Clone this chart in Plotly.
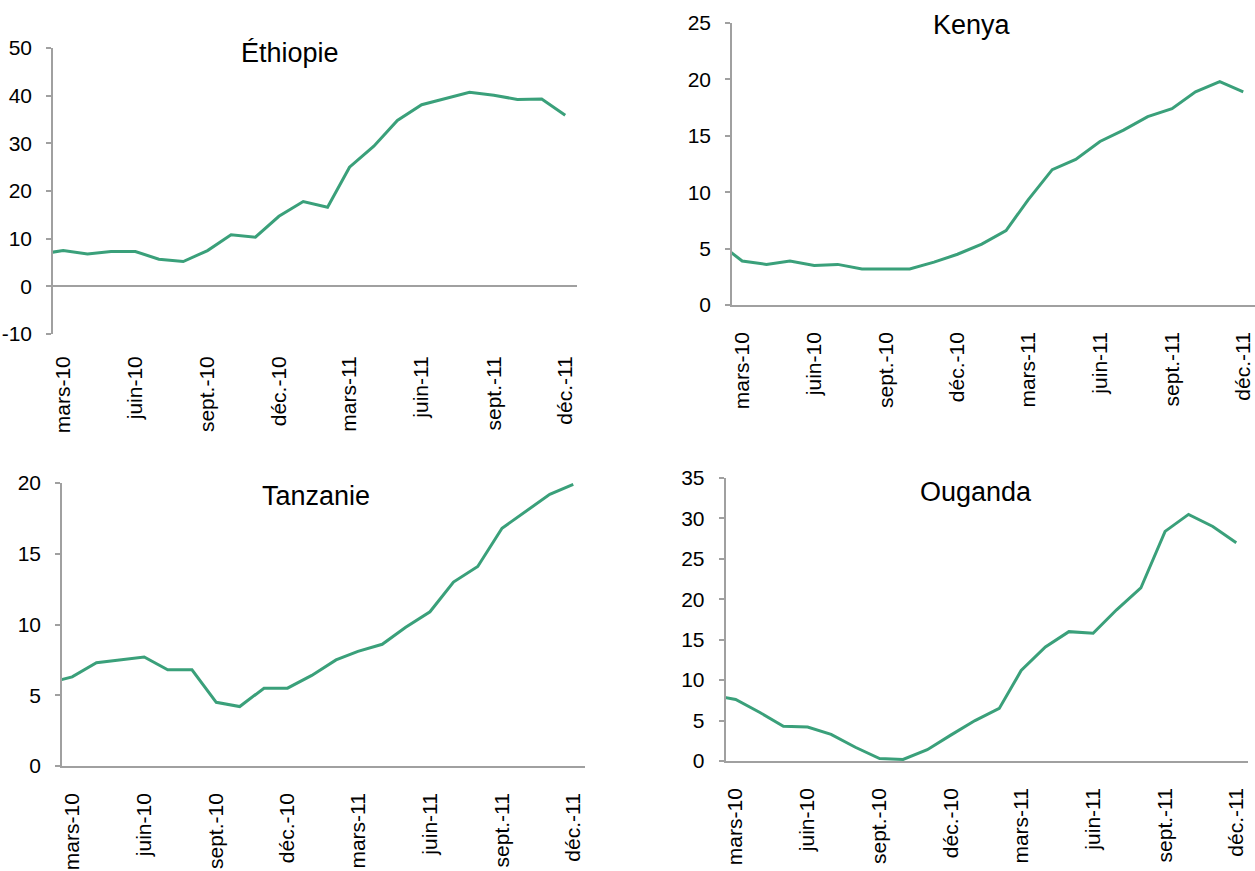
import plotly.graph_objects as go

# Monthly observations, Feb 2010 - Dec 2011 (year-on-year change, %)
months = [
    "2010-02-01", "2010-03-01", "2010-04-01", "2010-05-01", "2010-06-01",
    "2010-07-01", "2010-08-01", "2010-09-01", "2010-10-01", "2010-11-01",
    "2010-12-01", "2011-01-01", "2011-02-01", "2011-03-01", "2011-04-01",
    "2011-05-01", "2011-06-01", "2011-07-01", "2011-08-01", "2011-09-01",
    "2011-10-01", "2011-11-01", "2011-12-01",
]

ethiopie = [6.8, 7.5, 6.8, 7.3, 7.3, 5.7, 5.2, 7.5, 10.8, 10.3, 14.7, 17.8,
            16.6, 25.0, 29.4, 34.8, 38.1, 39.3, 40.7, 40.1, 39.2, 39.3, 35.9]
kenya = [5.4, 3.9, 3.6, 3.9, 3.5, 3.6, 3.2, 3.2, 3.2, 3.8, 4.5, 5.4,
         6.6, 9.3, 12.0, 12.9, 14.5, 15.5, 16.7, 17.4, 18.9, 19.8, 18.9]
tanzanie = [5.9, 6.3, 7.3, 7.5, 7.7, 6.8, 6.8, 4.5, 4.2, 5.5, 5.5, 6.4,
            7.5, 8.1, 8.6, 9.8, 10.9, 13.0, 14.1, 16.8, 18.0, 19.2, 19.9]
ouganda = [8.1, 7.6, 6.0, 4.3, 4.2, 3.3, 1.7, 0.3, 0.2, 1.4, 3.2, 5.0,
           6.5, 11.2, 14.1, 16.0, 15.8, 18.7, 21.4, 28.4, 30.5, 29.0, 27.0]

tick_dates = ["2010-03-01", "2010-06-01", "2010-09-01", "2010-12-01",
              "2011-03-01", "2011-06-01", "2011-09-01", "2011-12-01"]
tick_labels = ["mars-10", "juin-10", "sept.-10", "déc.-10",
               "mars-11", "juin-11", "sept.-11", "déc.-11"]

titles = ["Éthiopie", "Kenya", "Tanzanie", "Ouganda"]
series = [ethiopie, kenya, tanzanie, ouganda]
y_ticks = [
    [-10, 0, 10, 20, 30, 40, 50],
    [0, 5, 10, 15, 20, 25],
    [0, 5, 10, 15, 20],
    [0, 5, 10, 15, 20, 25, 30, 35],
]

W, H = 1255, 871
LINE = "#3aa07a"
AXIS = "#a0a0a0"
FONT = "Liberation Sans, Arial, sans-serif"

# plot-area boxes in pixels: left, right, top, bottom
boxes = [(53, 577, 48, 334), (732, 1255, 23, 305),
         (62, 585, 483, 766), (725.5, 1248, 478, 761)]
# title centres in pixels
title_pos = [(290, 53), (972, 25), (316, 496), (976, 492)]

fig = go.Figure()
layout = dict(
    width=W, height=H, margin=dict(l=0, r=0, t=0, b=0, autoexpand=False),
    paper_bgcolor="white", plot_bgcolor="white", showlegend=False,
    font=dict(family=FONT, color="#000000"),
)
annotations = []
for i, (name, vals) in enumerate(zip(titles, series)):
    n = "" if i == 0 else str(i + 1)
    l, r, t, b = boxes[i]
    yt = y_ticks[i]
    fig.add_trace(go.Scatter(
        x=months, y=vals, mode="lines", xaxis="x" + n, yaxis="y" + n,
        line=dict(color=LINE, width=3), hoverinfo="skip",
    ))
    layout["xaxis" + n] = dict(
        domain=[l / W, r / W], anchor="y" + n, type="date",
        range=["2010-02-16", "2011-12-16"], automargin=False,
        tickmode="array", tickvals=tick_dates, ticktext=tick_labels,
        tickangle=-90, ticks="", showgrid=False, zeroline=False,
        showline=(i != 0), linecolor=AXIS, linewidth=1.5,
        tickfont=dict(size=21, family=FONT, color="#000000"),
        ticklabelstandoff=17, ticklabeloverflow="allow",
    )
    layout["yaxis" + n] = dict(
        domain=[1 - b / H, 1 - t / H], anchor="x" + n,
        range=[yt[0], yt[-1]], automargin=False,
        tickmode="array", tickvals=yt, ticktext=[str(v) for v in yt],
        showgrid=False, showline=True, linecolor=AXIS, linewidth=1.5,
        ticks="outside", ticklen=5, tickwidth=1.5, tickcolor=AXIS,
        zeroline=(i == 0), zerolinecolor=AXIS, zerolinewidth=1.5,
        tickfont=dict(size=21, family=FONT, color="#000000"),
        ticklabelstandoff=10, ticklabeloverflow="allow",
    )
    tx, ty = title_pos[i]
    annotations.append(dict(
        text=name, x=tx / W, y=1 - ty / H, xref="paper", yref="paper",
        xanchor="center", yanchor="middle", showarrow=False,
        font=dict(size=27, family=FONT, color="#000000"),
    ))

layout["annotations"] = annotations
fig.update_layout(**layout)
fig.write_html("out.html")
